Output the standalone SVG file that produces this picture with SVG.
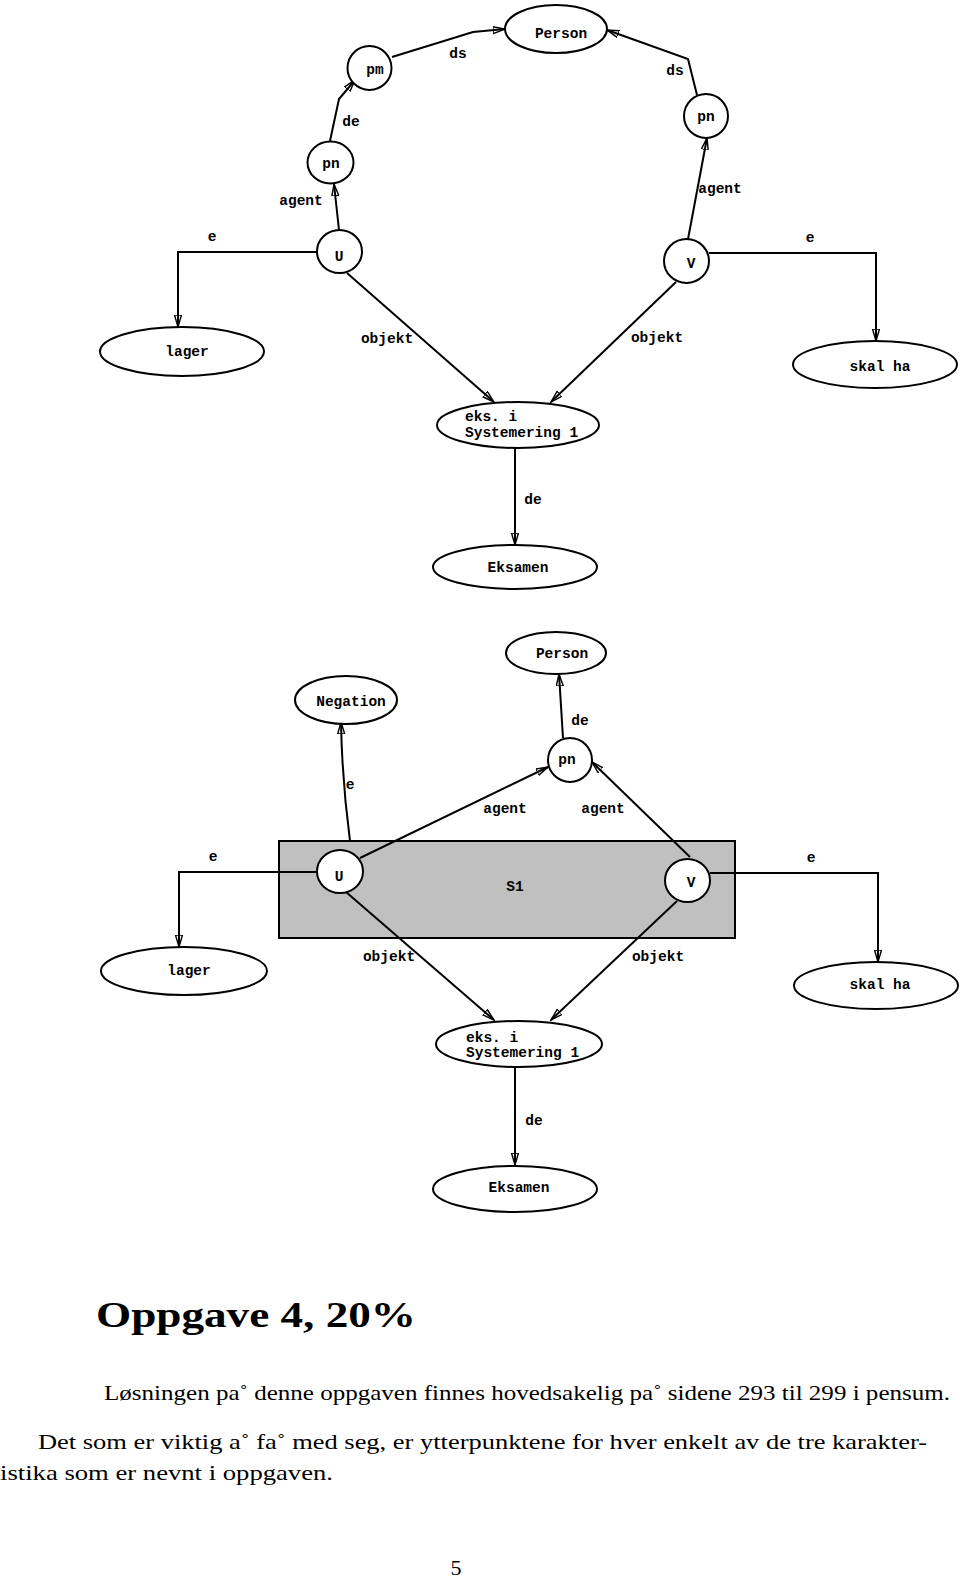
<svg xmlns="http://www.w3.org/2000/svg" width="960" height="1579" viewBox="0 0 960 1579">
<style>
.n{fill:#fff;stroke:#000;stroke-width:2}
.t{font-family:"Liberation Mono",monospace;font-weight:bold;font-size:14.5px;fill:#000;text-anchor:middle}
.tl{font-family:"Liberation Mono",monospace;font-weight:bold;font-size:14.5px;fill:#000}
.c{fill:none;stroke:#000;stroke-width:2;marker-end:url(#ah)}
.b{font-family:"Liberation Serif",serif;fill:#000}
</style>
<defs>
<marker id="ah" markerWidth="14" markerHeight="9" refX="12" refY="4" orient="auto" markerUnits="userSpaceOnUse">
<path d="M0,0.5 L12,4 L0,7.5 Z" fill="none" stroke="#000" stroke-width="1.4"/>
</marker>
</defs>
<rect width="960" height="1579" fill="#fff"/>

<!-- ===== Upper diagram ===== -->
<g id="connectors-top">
<path class="c" d="M339,230 L334,184"/>
<path class="c" d="M330,141 L339,99 L355,80"/>
<path class="c" d="M392,57 L473,32 L505,29"/>
<path class="c" d="M697,95 L688,59 L607,30"/>
<path class="c" d="M688,239 L707,138"/>
<path class="c" d="M317,252 L178,252 L178,327"/>
<path class="c" d="M709,253 L876,253 L876,341"/>
<path class="c" d="M347,273 L494,402"/>
<path class="c" d="M676,282 L551,402"/>
<path class="c" d="M515,448 L515,545"/>
<text class="t" x="458" y="58">ds</text>
<text class="t" x="675" y="75">ds</text>
<text class="t" x="351" y="126">de</text>
<text class="t" x="301" y="205">agent</text>
<text class="t" x="720" y="193">agent</text>
<text class="t" x="212" y="241">e</text>
<text class="t" x="810" y="242">e</text>
<text class="t" x="387" y="343">objekt</text>
<text class="t" x="657" y="342">objekt</text>
<text class="t" x="533" y="504">de</text>
</g>
<g id="top-person"><ellipse class="n" cx="556" cy="29" rx="51" ry="24"/><text class="t" x="561" y="38">Person</text></g>
<g id="top-pm"><circle class="n" cx="369.5" cy="68" r="22"/><text class="t" x="375" y="74">pm</text></g>
<g id="top-pn-left"><ellipse class="n" cx="330.5" cy="162.5" rx="23" ry="21"/><text class="t" x="331" y="168">pn</text></g>
<g id="top-pn-right"><circle class="n" cx="706" cy="116" r="22"/><text class="t" x="706" y="121">pn</text></g>
<g id="top-U"><ellipse class="n" cx="339.5" cy="251.5" rx="22.5" ry="21.5"/><text class="t" x="339" y="261">U</text></g>
<g id="top-V"><ellipse class="n" cx="686.5" cy="261" rx="22.5" ry="22"/><text class="t" x="691" y="268">V</text></g>
<g id="top-lager"><ellipse class="n" cx="182" cy="351.5" rx="82" ry="24.5"/><text class="t" x="187" y="356">lager</text></g>
<g id="top-skalha"><ellipse class="n" cx="875" cy="364.5" rx="82" ry="23.5"/><text class="t" x="880" y="371">skal ha</text></g>
<g id="top-eks"><ellipse class="n" cx="518" cy="425" rx="81" ry="23"/><text class="tl" x="465" y="421">eks. i</text><text class="tl" x="465" y="437">Systemering 1</text></g>
<g id="top-eksamen"><ellipse class="n" cx="515" cy="567" rx="82" ry="22"/><text class="t" x="518" y="572">Eksamen</text></g>

<!-- ===== Lower diagram ===== -->
<g id="S1"><rect x="279" y="841" width="456" height="97" fill="#c0c0c0" stroke="#000" stroke-width="2"/><text class="t" x="515" y="891">S1</text></g>
<g id="connectors-bottom">
<path class="c" d="M563,738 L559,674"/>
<path class="c" d="M350,841 Q342,780 341,722"/>
<path class="c" d="M360,858 L548,767"/>
<path class="c" d="M690,857 L592,762"/>
<path class="c" d="M317,872 L179,872 L179,947"/>
<path class="c" d="M710,873 L878,873 L878,962"/>
<path class="c" d="M346,892 L494,1020"/>
<path class="c" d="M677,901 L551,1020"/>
<path class="c" d="M515,1067 L515,1165"/>
<text class="t" x="580" y="725">de</text>
<text class="t" x="350" y="789">e</text>
<text class="t" x="505" y="813">agent</text>
<text class="t" x="603" y="813">agent</text>
<text class="t" x="213" y="861">e</text>
<text class="t" x="811" y="862">e</text>
<text class="t" x="389" y="961">objekt</text>
<text class="t" x="658" y="961">objekt</text>
<text class="t" x="534" y="1125">de</text>
</g>
<g id="mid-person"><ellipse class="n" cx="556" cy="653" rx="50" ry="21"/><text class="t" x="562" y="658">Person</text></g>
<g id="mid-negation"><ellipse class="n" cx="346" cy="700" rx="51" ry="24"/><text class="t" x="351" y="706">Negation</text></g>
<g id="mid-pn"><circle class="n" cx="570" cy="760" r="22"/><text class="t" x="567" y="764">pn</text></g>
<g id="mid-U"><ellipse class="n" cx="340" cy="871.5" rx="23" ry="21.5"/><text class="t" x="339" y="881">U</text></g>
<g id="mid-V"><ellipse class="n" cx="687.5" cy="880.5" rx="22.5" ry="21.5"/><text class="t" x="691" y="887">V</text></g>
<g id="mid-lager"><ellipse class="n" cx="184" cy="971" rx="83" ry="24"/><text class="t" x="189" y="975">lager</text></g>
<g id="mid-skalha"><ellipse class="n" cx="876" cy="985.5" rx="82" ry="23.5"/><text class="t" x="880" y="989">skal ha</text></g>
<g id="mid-eks"><ellipse class="n" cx="519" cy="1044" rx="83" ry="23"/><text class="tl" x="466" y="1042">eks. i</text><text class="tl" x="466" y="1057">Systemering 1</text></g>
<g id="mid-eksamen"><ellipse class="n" cx="515" cy="1189" rx="82" ry="23"/><text class="t" x="519" y="1192">Eksamen</text></g>

<!-- ===== Text ===== -->
<g id="text">
<text class="b" x="96" y="1327" font-size="36" font-weight="bold" textLength="320" lengthAdjust="spacingAndGlyphs">Oppgave 4, 20%</text>
<text class="b" x="104" y="1400" font-size="22" textLength="846" lengthAdjust="spacingAndGlyphs">Løsningen pa˚ denne oppgaven finnes hovedsakelig pa˚ sidene 293 til 299 i pensum.</text>
<text class="b" x="38" y="1449" font-size="22" textLength="889" lengthAdjust="spacingAndGlyphs">Det som er viktig a˚ fa˚ med seg, er ytterpunktene for hver enkelt av de tre karakter-</text>
<text class="b" x="0" y="1480" font-size="22" textLength="333" lengthAdjust="spacingAndGlyphs">istika som er nevnt i oppgaven.</text>
<text class="b" x="456" y="1575" font-size="22" text-anchor="middle">5</text>
</g>
</svg>
